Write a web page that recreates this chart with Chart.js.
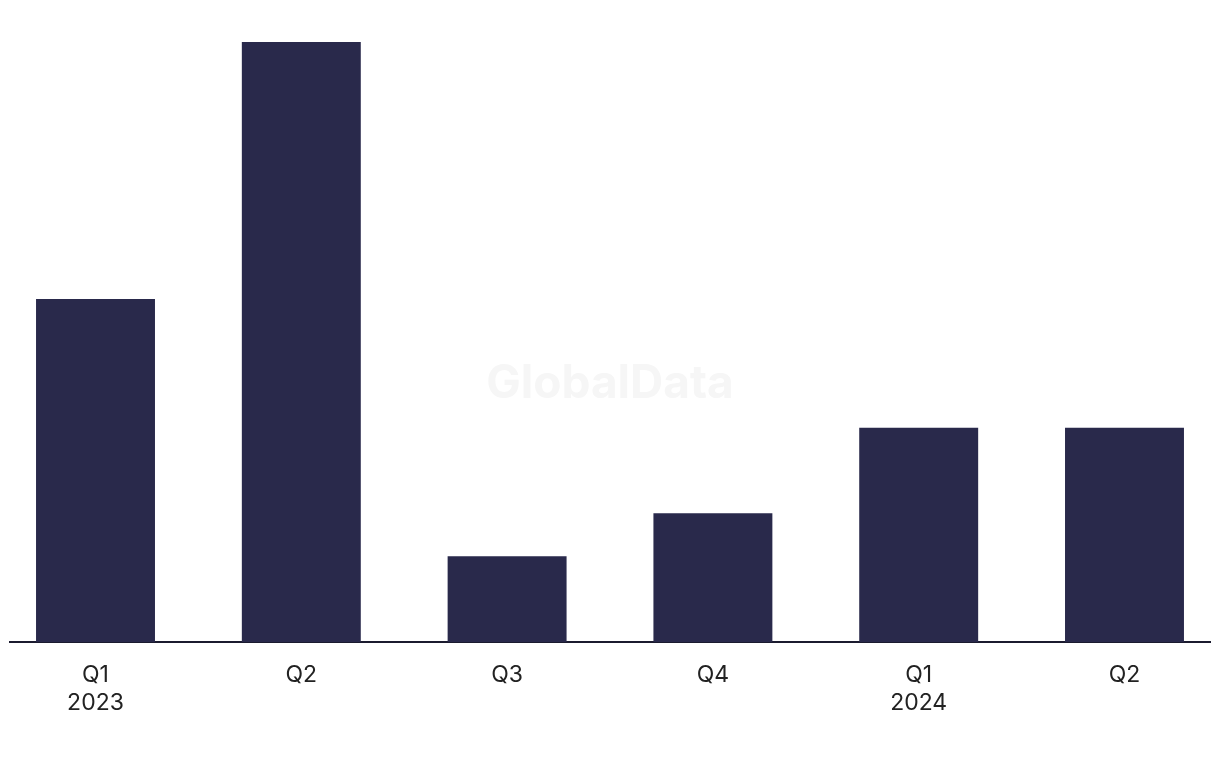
<!DOCTYPE html>
<html>
<head>
<meta charset="utf-8">
<script src="https://cdn.jsdelivr.net/npm/chart.js@4"></script>
<style>
  html, body { margin: 0; padding: 0; background: #fff; }
  #wrap { width: 1220px; height: 768px; }
</style>
</head>
<body>
<div id="wrap"><canvas id="chart"></canvas></div>
<script>
const quarters = ["Q1", "Q2", "Q3", "Q4", "Q1", "Q2"];
const years = ["2023", "", "", "", "2024", ""];
const dealCounts = [8, 14, 2, 3, 5, 5];

const watermark = {
  id: "watermark",
  beforeDatasetsDraw(chart) {
    const { ctx } = chart;
    ctx.save();
    ctx.font = "bold 46px Inter, 'Liberation Sans', sans-serif";
    ctx.fillStyle = "#f6f6f6";
    ctx.textAlign = "center";
    ctx.textBaseline = "middle";
    ctx.fillText("GlobalData", 610, 384);
    ctx.restore();
  }
};

new Chart(document.getElementById("chart"), {
  type: "bar",
  data: {
    datasets: [{
      data: dealCounts.map((v, i) => ({ x: i, y: v })),
      backgroundColor: "#29294b",
      barPercentage: 0.578,
      categoryPercentage: 1
    }]
  },
  options: {
    responsive: true,
    maintainAspectRatio: false,
    animation: false,
    layout: { padding: { top: 42, left: 10, right: 10, bottom: 32 } },
    plugins: { legend: { display: false }, tooltip: { enabled: false } },
    scales: {
      x: {
        type: "linear",
        offset: false,
        min: -0.4155,
        max: 5.4155,
        grid: { display: false, drawTicks: false },
        border: { display: true, color: "#1b1b2f", width: 2 },
        afterBuildTicks(scale) {
          scale.ticks = quarters.map((q, i) => ({ value: i }));
        },
        ticks: {
          autoSkip: false,
          maxRotation: 0,
          padding: 19,
          color: "#222",
          font: { family: "Inter, 'Liberation Sans', sans-serif", size: 23, lineHeight: 1.22 },
          callback: (v) => years[v] ? [quarters[v], years[v]] : quarters[v]
        }
      },
      y: {
        display: false,
        min: 0,
        max: 14
      }
    }
  },
  plugins: [watermark]
});
</script>
</body>
</html>
